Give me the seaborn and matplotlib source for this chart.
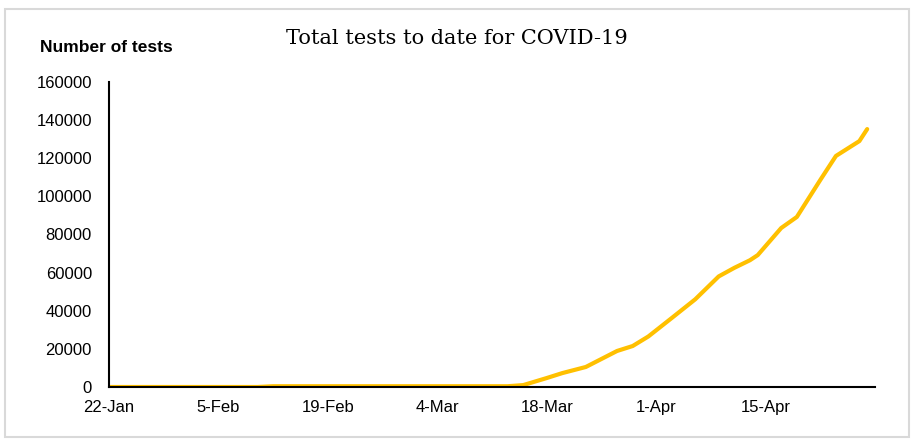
import pandas as pd
import numpy as np
import matplotlib.pyplot as plt
import matplotlib.dates as mdates
import matplotlib.patches as patches
import seaborn as sns

# valeurs (tests cumulés)
dates = ["2020-01-22", "2020-02-10", "2020-02-12", "2020-03-13", "2020-03-15",
         "2020-03-18", "2020-03-20", "2020-03-23", "2020-03-25", "2020-03-27",
         "2020-03-29", "2020-03-31", "2020-04-03", "2020-04-06", "2020-04-09",
         "2020-04-11", "2020-04-13", "2020-04-14", "2020-04-17", "2020-04-19",
         "2020-04-22", "2020-04-24", "2020-04-27", "2020-04-28"]
tests = [0, 0, 400, 400, 1000,
         4700, 7300, 10500, 14700, 18900,
         21500, 26500, 36200, 46000, 58000,
         62500, 66500, 69200, 83400, 89200,
         108600, 121200, 129000, 135300]

tick_dates = ["2020-01-22", "2020-02-05", "2020-02-19", "2020-03-04",
              "2020-03-18", "2020-04-01", "2020-04-15", "2020-04-29"]
tick_labels = ["22-Jan", "5-Feb", "19-Feb", "4-Mar", "18-Mar", "1-Apr", "15-Apr", ""]
y_ticks = [0, 20000, 40000, 60000, 80000, 100000, 120000, 140000, 160000]

df = pd.DataFrame({"date": pd.to_datetime(dates), "tests": tests})

sns.set_style("white")
plt.rcParams['font.family'] = ['Liberation Sans', 'DejaVu Sans']
plt.rcParams['text.color'] = 'black'

fig = plt.figure(figsize=(9.19, 4.46), dpi=100)
ax = fig.add_axes([109/919, 1 - 387/446, (875-109)/919, (387-82)/446])

sns.lineplot(data=df, x="date", y="tests", color="#FFC000", linewidth=3,
             solid_capstyle="round", solid_joinstyle="round", ax=ax)

ax.set_xlim(pd.Timestamp("2020-01-22"), pd.Timestamp("2020-04-29"))
ax.set_ylim(0, 160000)
ax.set_xticks(pd.to_datetime(tick_dates))
ax.set_xticklabels(tick_labels)
ax.set_yticks(y_ticks)
ax.set_yticklabels([str(v) for v in y_ticks])
ax.set_xlabel("")
ax.set_ylabel("")

for s in ["top", "right"]:
    ax.spines[s].set_visible(False)
for s in ["left", "bottom"]:
    ax.spines[s].set_color("black")
    ax.spines[s].set_linewidth(1.5)
ax.tick_params(axis="both", direction="out", length=4.3, width=1.5, color="black",
               labelsize=12, labelcolor="black")
ax.tick_params(axis="y", pad=8)
ax.tick_params(axis="x", pad=5)

fig.text(40/919, 1 - 47/446, "Number of tests", fontsize=12.5, fontweight="bold",
         color="black", ha="left", va="center")
fig.text(457/919, 1 - 38/446, "Total tests to date for COVID-19", fontsize=15,
         family=["DejaVu Serif"], color="black", ha="center", va="center")

# cadre gris autour du graphique
fig.patches.append(patches.Rectangle((5/919, 1 - 437/446), (909-5)/919, (437-9)/446,
                                     transform=fig.transFigure, fill=False,
                                     edgecolor="#d9d9d9", linewidth=1.5))

fig.savefig("out.png", dpi=100)
